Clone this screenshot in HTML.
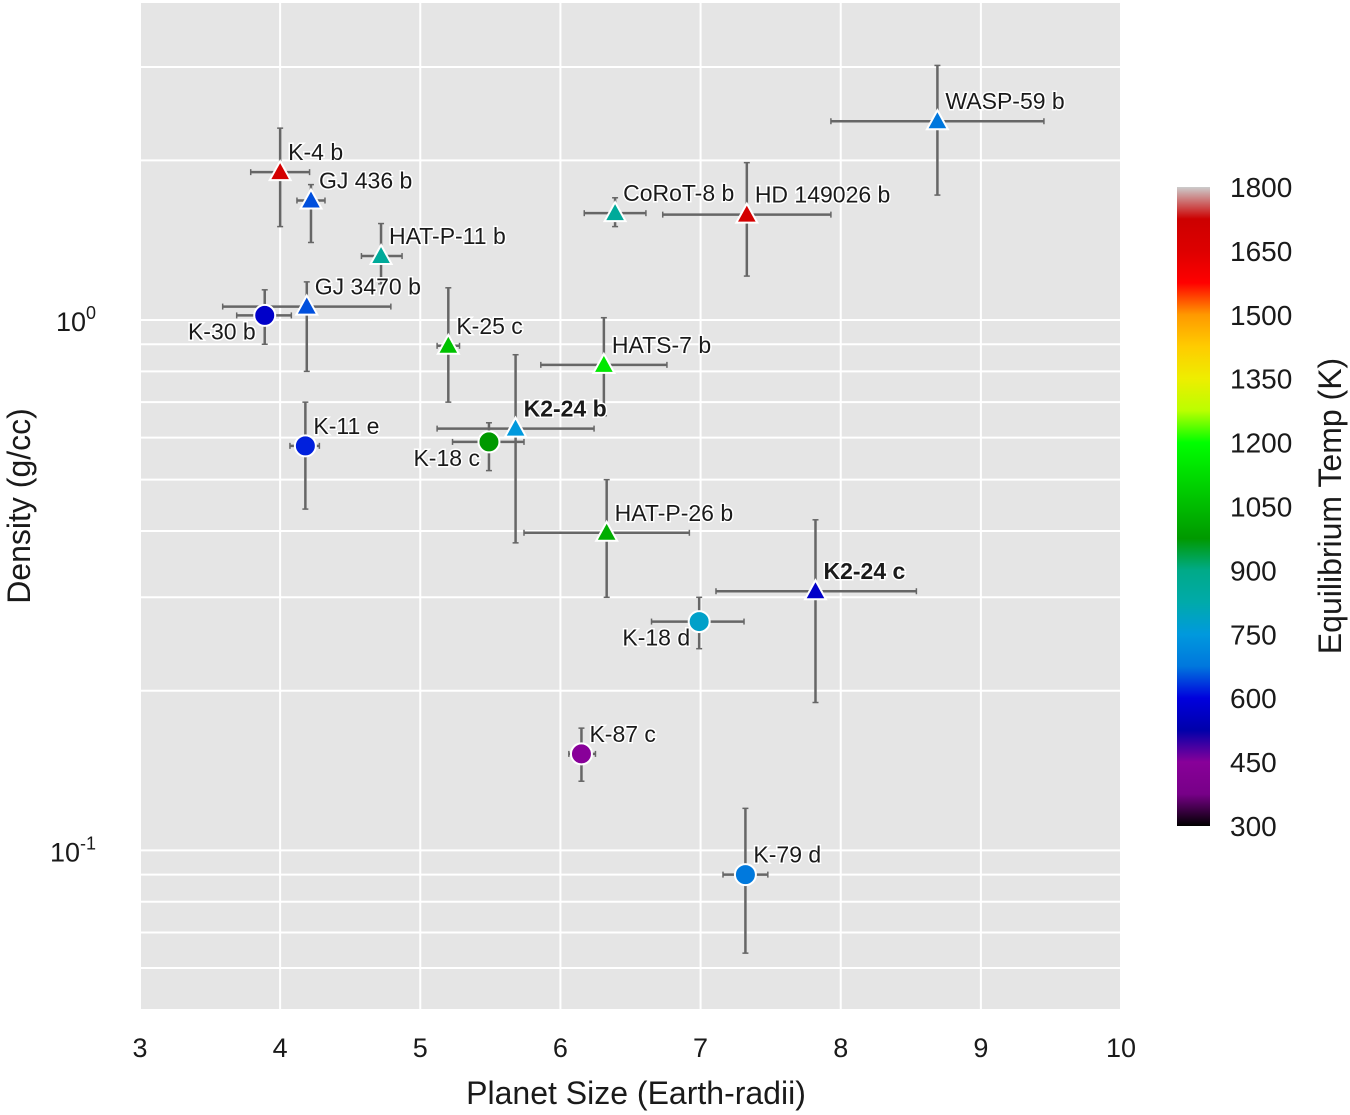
<!DOCTYPE html>
<html><head><meta charset="utf-8"><style>
body{margin:0;background:#fff;}
svg{display:block;font-family:"Liberation Sans",Arial,sans-serif;}
</style></head><body>
<svg id="chart" width="1350" height="1115" viewBox="0 0 1350 1115" xmlns="http://www.w3.org/2000/svg">
<defs><linearGradient id="cmap" x1="0" y1="1" x2="0" y2="0"></linearGradient></defs>
<rect x="140" y="3" width="981" height="1007" fill="#e5e5e5"/>
<g id="grid"></g><g id="errs"></g><g id="marks"></g><g id="labels"></g><g id="axes"></g><g id="cbar"></g>
</svg>
<script>
const names=["WASP-59 b","K-4 b","GJ 436 b","CoRoT-8 b","HD 149026 b","HAT-P-11 b","GJ 3470 b","K-30 b","K-25 c","HATS-7 b","K2-24 b","K-18 c","K-11 e","HAT-P-26 b","K2-24 c","K-18 d","K-87 c","K-79 d"];
const sizes=[8.69,4.0,4.22,6.39,7.33,4.72,4.19,3.89,5.2,6.31,5.68,5.49,4.18,6.33,7.82,6.99,6.15,7.32];
const sizeLo=[7.93,3.79,4.12,6.17,6.73,4.58,3.59,3.69,5.12,5.86,5.12,5.23,4.07,5.74,7.11,6.65,6.06,7.16];
const sizeHi=[9.45,4.21,4.32,6.61,7.93,4.87,4.79,4.08,5.28,6.76,6.24,5.74,4.28,6.92,8.54,7.31,6.25,7.48];
const dens=[2.37,1.90,1.68,1.59,1.58,1.32,1.06,1.02,0.894,0.823,0.624,0.589,0.579,0.397,0.308,0.270,0.152,0.090];
const densLo=[1.72,1.50,1.40,1.50,1.21,1.17,0.80,0.90,0.70,0.66,0.38,0.52,0.44,0.30,0.19,0.24,0.135,0.064];
const densHi=[3.02,2.30,1.80,1.70,1.98,1.52,1.18,1.14,1.15,1.01,0.86,0.64,0.70,0.50,0.42,0.30,0.170,0.12];
const temps=[675,1690,650,860,1690,860,650,570,1065,1150,750,975,620,1020,570,780,450,680];
const shapes=["t","t","t","t","t","t","t","c","t","t","t","c","c","t","t","c","c","c"];
const labelPos=["ur","ur","ur","ur","ur","ur","ur","ll","ur","ur","ur","ll","ur","ur","ur","ll","ur","ur"];
const bold=[0,0,0,0,0,0,0,0,0,0,1,0,0,0,1,0,0,0];
const xTicks=[3,4,5,6,7,8,9,10];
const cbTicks=[300,450,600,750,900,1050,1200,1350,1500,1650,1800];

const X0=140,X1=1121,Y0=3,Y1=1010,XMIN=3,XMAX=10,LMIN=Math.log10(0.05),LMAX=Math.log10(3.96);
const xs=v=>X0+(v-XMIN)/(XMAX-XMIN)*(X1-X0);
const ys=v=>Y1-(Math.log10(v)-LMIN)/(LMAX-LMIN)*(Y1-Y0);
const NS="http://www.w3.org/2000/svg";
function mk(p,tag,a){const e=document.createElementNS(NS,tag);for(const k in a)e.setAttribute(k,a[k]);p.appendChild(e);return e;}
const R=[[0,0],[.05,.4667],[.1,.5333],[.15,0],[.6,0],[.65,.7333],[.7,.9333],[.75,1],[.85,1],[.9,.8667],[.95,.8],[1,.8]];
const G=[[0,0],[.2,0],[.25,.4667],[.3,.6],[.35,.6667],[.4,.6667],[.45,.6],[.5,.7333],[.55,.8667],[.6,1],[.65,1],[.7,.9333],[.75,.8],[.8,.6],[.85,0],[.95,0],[1,.8]];
const B=[[0,0],[.05,.5333],[.1,.6],[.15,.6667],[.2,.8667],[.3,.8667],[.35,.6667],[.4,.5333],[.45,0],[.95,0],[1,.8]];
function interp(t,a){for(let i=1;i<a.length;i++){if(t<=a[i][0]){const f=(t-a[i-1][0])/(a[i][0]-a[i-1][0]);return a[i-1][1]+f*(a[i][1]-a[i-1][1]);}}return a[a.length-1][1];}
function cmap(t){t=Math.max(0,Math.min(1,t));return `rgb(${Math.round(interp(t,R)*255)},${Math.round(interp(t,G)*255)},${Math.round(interp(t,B)*255)})`;}
const TMIN=300,TMAX=1800;

const grid=document.getElementById('grid');
xTicks.forEach(v=>{const l=mk(grid,'line',{x1:xs(v),x2:xs(v),y1:Y0,y2:Y1,stroke:'#fff','stroke-width':2});
});
[0.05,0.06,0.07,0.08,0.09,0.1,0.2,0.3,0.4,0.5,0.6,0.7,0.8,0.9,1,2,3].forEach(v=>{const l=mk(grid,'line',{x1:X0,x2:X1,y1:ys(v),y2:ys(v),stroke:'#fff','stroke-width':2});
});

const errs=document.getElementById('errs'),marks=document.getElementById('marks'),labs=document.getElementById('labels');
names.forEach((n,i)=>{
 const cx=xs(sizes[i]),cy=ys(dens[i]);
 const g=mk(errs,'g',{stroke:'#666','stroke-width':2.5});
 
 mk(g,'line',{x1:xs(sizeLo[i]),x2:xs(sizeHi[i]),y1:cy,y2:cy});
 mk(g,'line',{x1:cx,x2:cx,y1:ys(densLo[i]),y2:ys(densHi[i])});
 [xs(sizeLo[i]),xs(sizeHi[i])].forEach(x=>mk(g,'line',{x1:x,x2:x,y1:cy-3,y2:cy+3,'stroke-width':1.5}));
 [ys(densLo[i]),ys(densHi[i])].forEach(y=>mk(g,'line',{x1:cx-3,x2:cx+3,y1:y,y2:y,'stroke-width':1.5}));
 const col=cmap((temps[i]-TMIN)/(TMAX-TMIN));
 let m;
 if(shapes[i]==='c') m=mk(marks,'circle',{cx:cx,cy:cy,r:10.5,fill:col,stroke:'#fff','stroke-width':2});
 else m=mk(marks,'polygon',{points:`${cx},${cy-11} ${cx+10.5},${cy+8} ${cx-10.5},${cy+8}`,fill:col,stroke:'#fff','stroke-width':2});
 
 const p=labelPos[i];
 const t=mk(labs,'text',{x:p==='ur'?cx+8:cx-9,y:p==='ur'?cy-12:cy+24,'font-size':23,fill:'#1a1a1a','text-anchor':p==='ur'?'start':'end','font-weight':bold[i]?'bold':'normal',stroke:'#fff','stroke-width':3,'paint-order':'stroke'});
 t.textContent=n;
});

const axes=document.getElementById('axes');
xTicks.forEach(v=>{const t=mk(axes,'text',{x:xs(v),y:1057,'font-size':27,'text-anchor':'middle',fill:'#1a1a1a'});t.textContent=v;
});
[[1,'0'],[0.1,'-1']].forEach(([v,e])=>{const t=mk(axes,'text',{x:96,y:ys(v)+11,'font-size':27,'text-anchor':'end',fill:'#1a1a1a'});
t.innerHTML='10<tspan dy="-12" font-size="18">'+e+'</tspan>';
});
let t=mk(axes,'text',{x:636,y:1104,'font-size':32,'text-anchor':'middle',fill:'#1a1a1a'});t.textContent='Planet Size (Earth-radii)';

t=mk(axes,'text',{x:0,y:0,'font-size':32,'text-anchor':'middle',fill:'#1a1a1a',transform:'translate(30,506) rotate(-90)'});t.textContent='Density (g/cc)';


const grad=document.getElementById('cmap');
for(let k=0;k<=40;k++){mk(grad,'stop',{offset:k/40,'stop-color':cmap(k/40)});}
const cb=document.getElementById('cbar'),CY0=187,CY1=826;
const r=mk(cb,'rect',{x:1177,y:CY0,width:33,height:CY1-CY0,fill:'url(#cmap)'});

cbTicks.forEach(v=>{const y=CY1-(v-TMIN)/(TMAX-TMIN)*(CY1-CY0);
const tt=mk(cb,'text',{x:1230,y:y+10,'font-size':28,fill:'#1a1a1a'});tt.textContent=v;
});
t=mk(cb,'text',{x:0,y:0,'font-size':32,'text-anchor':'middle',fill:'#1a1a1a',transform:'translate(1341,506) rotate(-90)'});t.textContent='Equilibrium Temp (K)';

</script>
</body></html>
